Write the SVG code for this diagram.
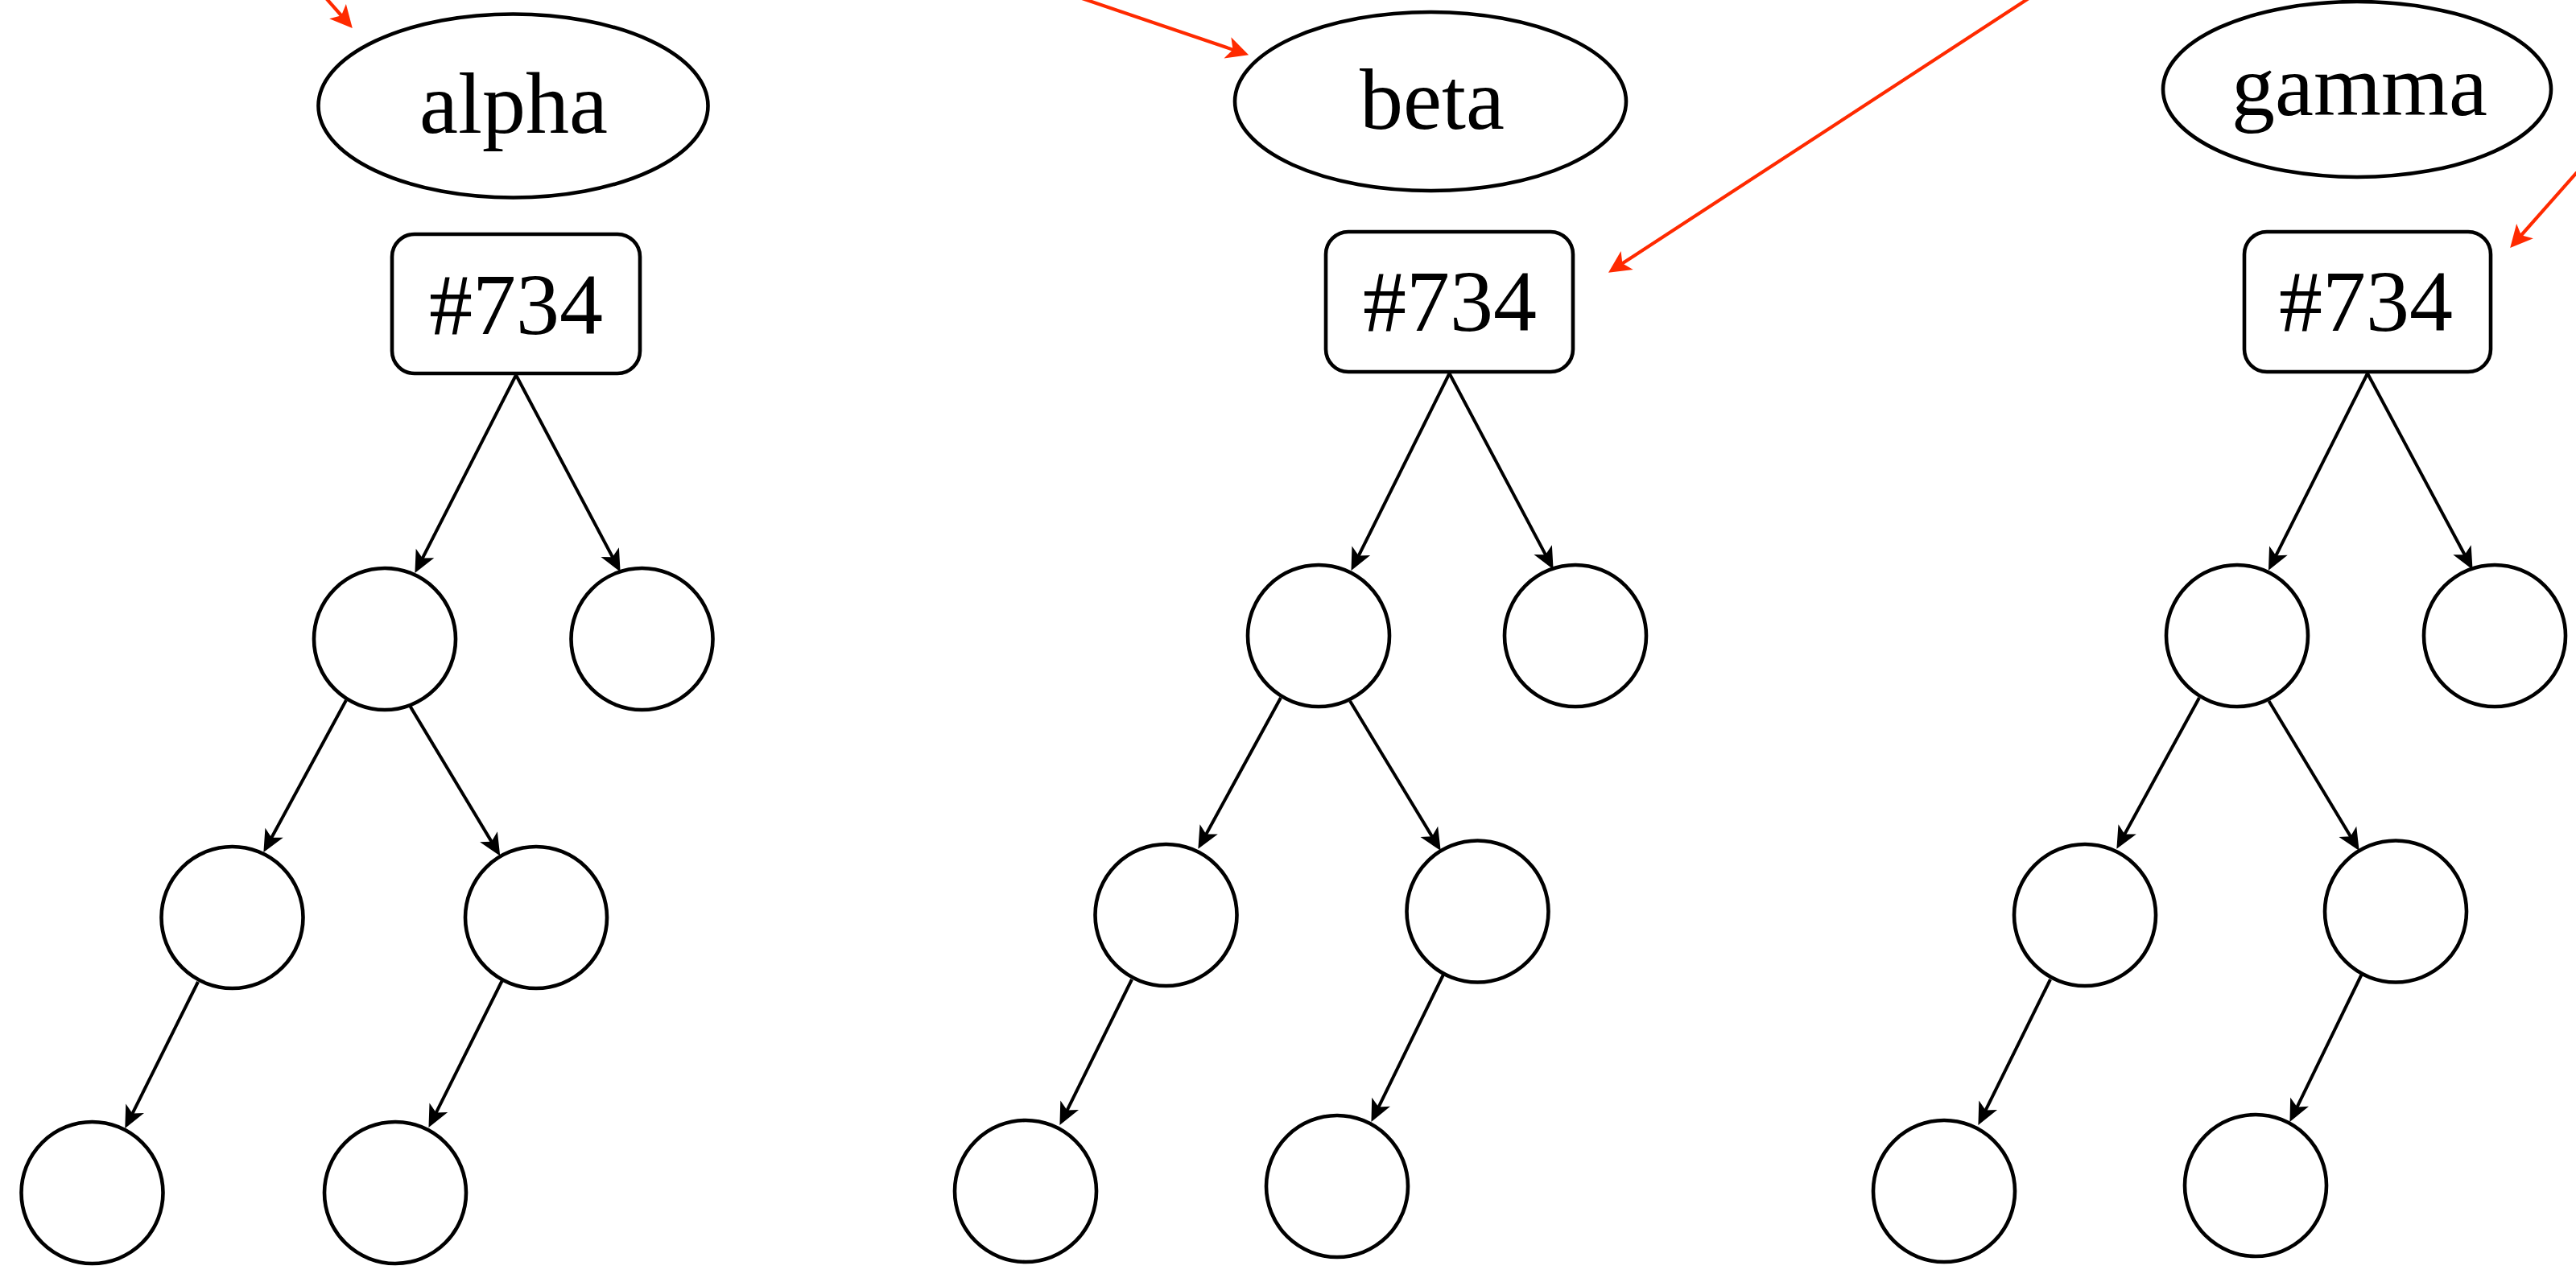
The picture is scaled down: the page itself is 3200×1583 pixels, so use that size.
<svg xmlns="http://www.w3.org/2000/svg" width="3200" height="1583" viewBox="0 0 3200 1583">
<style>
.n{fill:#fff;stroke:#000;stroke-width:4.6}
.t{font-family:"Liberation Serif","Times New Roman",serif;font-size:108px;fill:#000;text-anchor:middle}
.e{fill:none;stroke:#000;stroke-width:4}
.r{fill:none;stroke:#ff2a00;stroke-width:4.2}
</style>
<defs>
<marker id="ab" markerUnits="userSpaceOnUse" markerWidth="30" markerHeight="30" viewBox="0 -12 26 24" refX="16" refY="0" orient="auto" overflow="visible">
<path d="M24,0 L0,-11 L6,0 L0,11 Z" fill="#000"/>
</marker>
<marker id="ar" markerUnits="userSpaceOnUse" markerWidth="30" markerHeight="30" viewBox="0 -12 26 24" refX="16" refY="0" orient="auto" overflow="visible">
<path d="M24,0 L0,-12 L6,0 L0,12 Z" fill="#ff2a00"/>
</marker>
</defs>
<rect width="3200" height="1583" fill="#fff"/>
<g id="connectors">
<line class="e" x1="641" y1="466" x2="519.6" y2="703.9" marker-end="url(#ab)"/>
<line class="e" x1="641" y1="466" x2="766.3" y2="702.4" marker-end="url(#ab)"/>
<line class="e" x1="430" y1="870" x2="331.8" y2="1051" marker-end="url(#ab)"/>
<line class="e" x1="508" y1="875" x2="616.5" y2="1055.6" marker-end="url(#ab)"/>
<line class="e" x1="246" y1="1220" x2="159.4" y2="1393.8" marker-end="url(#ab)"/>
<line class="e" x1="624" y1="1218" x2="536.6" y2="1392.8" marker-end="url(#ab)"/>
<line class="e" x1="1800.5" y1="464" x2="1682.6" y2="700.8" marker-end="url(#ab)"/>
<line class="e" x1="1800.5" y1="464" x2="1925.3" y2="699.4" marker-end="url(#ab)"/>
<line class="e" x1="1591" y1="867" x2="1492.8" y2="1046.6" marker-end="url(#ab)"/>
<line class="e" x1="1677" y1="871" x2="1784.9" y2="1049.2" marker-end="url(#ab)"/>
<line class="e" x1="1406" y1="1217" x2="1320.5" y2="1389.8" marker-end="url(#ab)"/>
<line class="e" x1="1793" y1="1211" x2="1707.5" y2="1385.8" marker-end="url(#ab)"/>
<line class="e" x1="2941" y1="464" x2="2822.1" y2="700.6" marker-end="url(#ab)"/>
<line class="e" x1="2941" y1="464" x2="3067.2" y2="699.5" marker-end="url(#ab)"/>
<line class="e" x1="2732" y1="867" x2="2633.8" y2="1046.6" marker-end="url(#ab)"/>
<line class="e" x1="2818.5" y1="871" x2="2925.9" y2="1049.2" marker-end="url(#ab)"/>
<line class="e" x1="2547" y1="1217" x2="2461.5" y2="1389.8" marker-end="url(#ab)"/>
<line class="e" x1="2933.6" y1="1211" x2="2848.5" y2="1385.8" marker-end="url(#ab)"/>
<line class="r" x1="397.3" y1="-11" x2="431.7" y2="28" marker-end="url(#ar)"/>
<line class="r" x1="1300" y1="-17" x2="1542.4" y2="65.4" marker-end="url(#ar)"/>
<line class="r" x1="2530" y1="-8.5" x2="2005.7" y2="333.6" marker-end="url(#ar)"/>
<line class="r" x1="3210" y1="204" x2="3124.3" y2="301" marker-end="url(#ar)"/>
</g>
<g id="alpha"><ellipse class="n" cx="637.5" cy="131.5" rx="242" ry="114"/><text class="t" x="638" y="165">alpha</text></g>
<g id="alpha-734"><rect class="n" x="487" y="291" width="308" height="173" rx="28"/><text class="t" x="641" y="415">#734</text></g>
<g id="alpha-n1"><circle class="n" cx="478" cy="794" r="88"/></g>
<g id="alpha-n2"><circle class="n" cx="797.5" cy="794" r="88"/></g>
<g id="alpha-n3"><circle class="n" cx="288.5" cy="1140" r="88"/></g>
<g id="alpha-n4"><circle class="n" cx="666" cy="1140" r="88"/></g>
<g id="alpha-n5"><circle class="n" cx="114.5" cy="1482" r="88"/></g>
<g id="alpha-n6"><circle class="n" cx="491" cy="1482" r="88"/></g>
<g id="beta"><ellipse class="n" cx="1777" cy="126" rx="243" ry="111"/><text class="t" x="1779" y="160">beta</text></g>
<g id="beta-734"><rect class="n" x="1647" y="288" width="307" height="174" rx="28"/><text class="t" x="1801" y="411">#734</text></g>
<g id="beta-n1"><circle class="n" cx="1638" cy="790" r="88"/></g>
<g id="beta-n2"><circle class="n" cx="1957" cy="790" r="88"/></g>
<g id="beta-n3"><circle class="n" cx="1448.5" cy="1137" r="88"/></g>
<g id="beta-n4"><circle class="n" cx="1835.5" cy="1132.5" r="88"/></g>
<g id="beta-n5"><circle class="n" cx="1274" cy="1480" r="88"/></g>
<g id="beta-n6"><circle class="n" cx="1661" cy="1474" r="88"/></g>
<g id="gamma"><ellipse class="n" cx="2928" cy="111" rx="241" ry="109"/><text class="t" x="2931" y="143">gamma</text></g>
<g id="gamma-734"><rect class="n" x="2788" y="288" width="306" height="174" rx="28"/><text class="t" x="2939" y="411">#734</text></g>
<g id="gamma-n1"><circle class="n" cx="2779" cy="790" r="88"/></g>
<g id="gamma-n2"><circle class="n" cx="3099" cy="790" r="88"/></g>
<g id="gamma-n3"><circle class="n" cx="2590" cy="1137" r="88"/></g>
<g id="gamma-n4"><circle class="n" cx="2976" cy="1132.5" r="88"/></g>
<g id="gamma-n5"><circle class="n" cx="2415" cy="1480" r="88"/></g>
<g id="gamma-n6"><circle class="n" cx="2802" cy="1473" r="88"/></g>
</svg>
